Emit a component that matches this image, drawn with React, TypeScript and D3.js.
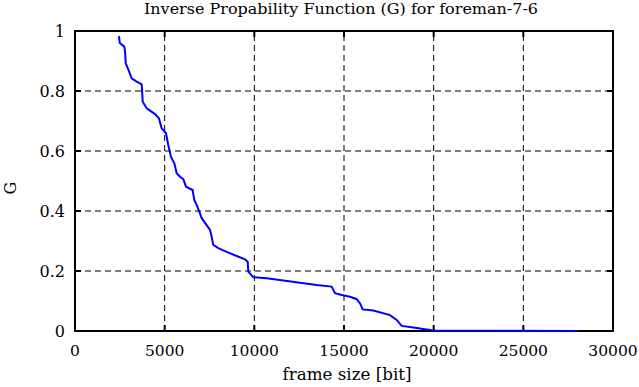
import React, { useEffect, useRef } from "react";
import * as d3 from "d3";

const frameSize = [
  2450, 2500, 2750, 2790, 2830, 2970, 3160, 3440, 3720, 3775, 4000, 4460, 4680, 4830,
  5075, 5200, 5350, 5540, 5670, 5855, 6040, 6190, 6560, 6650, 6785, 6930, 7065, 7340,
  7530, 7620, 7710, 7990, 8455, 9015, 9480, 9630, 9665, 9945, 10690, 11615, 12545,
  13475, 14310, 14500, 14870, 15335, 15710, 15895, 16040, 16635, 17565, 17940, 18215,
  18865, 19515, 19980, 28000,
];
const gValue = [
  0.983, 0.96, 0.948, 0.931, 0.892, 0.872, 0.842, 0.831, 0.822, 0.764, 0.742, 0.723,
  0.709, 0.676, 0.659, 0.62, 0.581, 0.559, 0.526, 0.514, 0.506, 0.481, 0.47, 0.437,
  0.42, 0.398, 0.376, 0.353, 0.337, 0.314, 0.287, 0.276, 0.264, 0.25, 0.239, 0.231,
  0.198, 0.179, 0.176, 0.168, 0.161, 0.153, 0.148, 0.126, 0.12, 0.114, 0.106, 0.092,
  0.072, 0.068, 0.053, 0.037, 0.017, 0.012, 0.006, 0.002, 0,
];
const xTicks = [0, 5000, 10000, 15000, 20000, 25000, 30000];
const yTicks = [0, 0.2, 0.4, 0.6, 0.8, 1];

const W = 639;
const H = 387;
const margin = { left: 75, right: 26, top: 31, bottom: 56 };

export default function App() {
  const svgRef = useRef<SVGSVGElement>(null);

  useEffect(() => {
    const svg = d3.select(svgRef.current);
    svg.selectAll("*").remove();

    const x = d3.scaleLinear().domain([0, 30000]).range([margin.left, W - margin.right]);
    const y = d3.scaleLinear().domain([0, 1]).range([H - margin.bottom, margin.top]);
    const font = "'DejaVu Serif', serif";

    // grid
    svg.append("g")
      .selectAll("line")
      .data(xTicks.slice(1, -1))
      .join("line")
      .attr("x1", d => x(d)).attr("x2", d => x(d))
      .attr("y1", y(0)).attr("y2", y(1))
      .attr("stroke", "black").attr("stroke-dasharray", "6,4");
    svg.append("g")
      .selectAll("line")
      .data(yTicks.slice(1, -1))
      .join("line")
      .attr("y1", d => y(d)).attr("y2", d => y(d))
      .attr("x1", x(0)).attr("x2", x(30000))
      .attr("stroke", "black").attr("stroke-dasharray", "6,4");

    // inner ticks
    const tl = 6;
    yTicks.forEach(t => {
      svg.append("line").attr("x1", x(0)).attr("x2", x(0) + tl).attr("y1", y(t)).attr("y2", y(t)).attr("stroke", "black").attr("stroke-width", 2);
      svg.append("line").attr("x1", x(30000)).attr("x2", x(30000) - tl).attr("y1", y(t)).attr("y2", y(t)).attr("stroke", "black").attr("stroke-width", 2);
    });
    xTicks.forEach(t => {
      svg.append("line").attr("x1", x(t)).attr("x2", x(t)).attr("y1", y(0)).attr("y2", y(0) - tl).attr("stroke", "black").attr("stroke-width", 2);
      svg.append("line").attr("x1", x(t)).attr("x2", x(t)).attr("y1", y(1)).attr("y2", y(1) + tl).attr("stroke", "black").attr("stroke-width", 2);
    });

    // frame
    svg.append("rect")
      .attr("x", x(0)).attr("y", y(1))
      .attr("width", x(30000) - x(0)).attr("height", y(0) - y(1))
      .attr("fill", "none").attr("stroke", "black").attr("stroke-width", 2);

    // curve (drawn over the frame, like the reference)
    const pts = frameSize.map((f, i) => [f, gValue[i]] as [number, number]);
    svg.append("path")
      .datum(pts)
      .attr("d", d3.line<[number, number]>().x(d => x(d[0])).y(d => y(d[1])))
      .attr("fill", "none")
      .attr("stroke", "#0000ff")
      .attr("stroke-width", 2);

    // tick labels
    svg.append("g")
      .selectAll("text")
      .data(xTicks)
      .join("text")
      .attr("x", d => x(d)).attr("y", y(0) + 25)
      .attr("text-anchor", "middle")
      .attr("font-family", font).attr("font-size", 15.5)
      .text(d => String(d));
    svg.append("g")
      .selectAll("text")
      .data(yTicks)
      .join("text")
      .attr("x", x(0) - 10).attr("y", d => y(d) + 6)
      .attr("text-anchor", "end")
      .attr("font-family", font).attr("font-size", 16)
      .text(d => String(d));

    // titles
    svg.append("text")
      .attr("x", 341).attr("y", 14)
      .attr("text-anchor", "middle")
      .attr("font-family", font).attr("font-size", 14)
      .attr("textLength", 394).attr("lengthAdjust", "spacingAndGlyphs")
      .text("Inverse Propability Function (G) for foreman-7-6");
    svg.append("text")
      .attr("x", 347).attr("y", 380)
      .attr("text-anchor", "middle")
      .attr("font-family", font).attr("font-size", 16)
      .attr("textLength", 129).attr("lengthAdjust", "spacingAndGlyphs")
      .text("frame size [bit]");
    svg.append("text")
      .attr("transform", `translate(16,188) rotate(-90)`)
      .attr("text-anchor", "middle")
      .attr("font-family", font).attr("font-size", 16)
      .text("G");
  }, []);

  return (
    <div style={{ position: "absolute", left: 0, top: 0, background: "white" }}>
      <svg ref={svgRef} width={W} height={H} />
    </div>
  );
}
